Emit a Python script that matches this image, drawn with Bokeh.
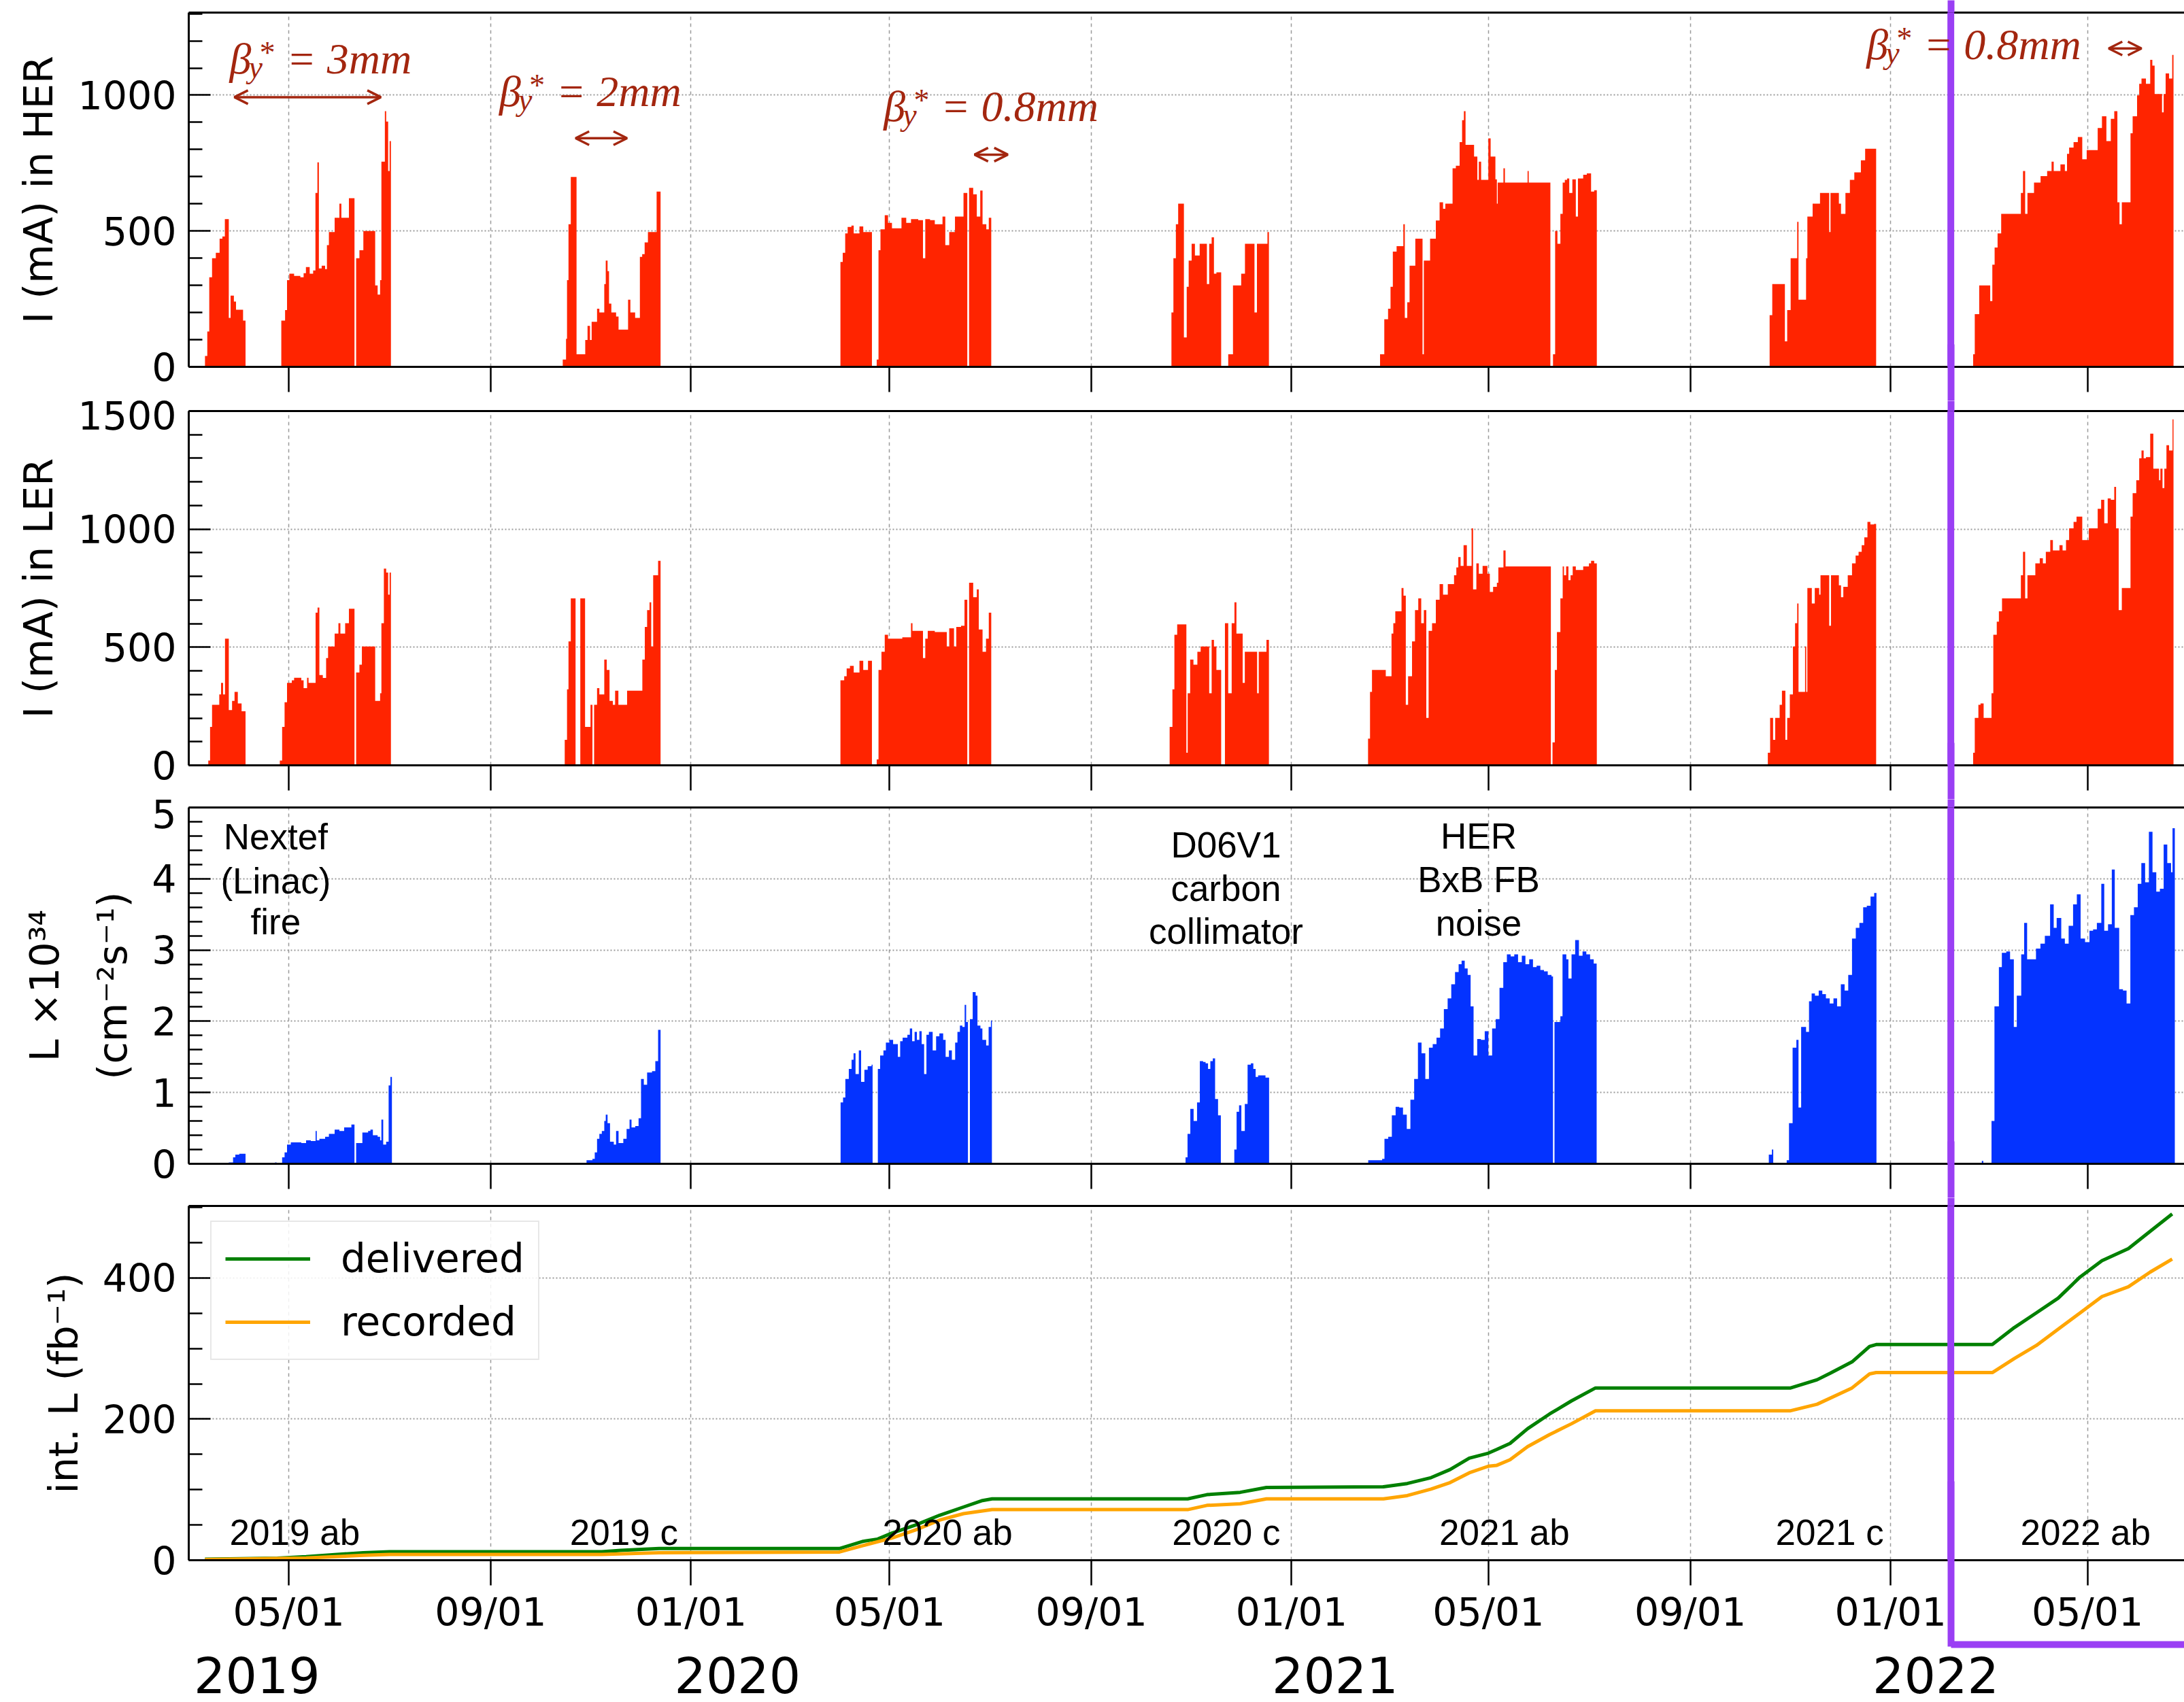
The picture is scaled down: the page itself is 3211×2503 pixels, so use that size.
import pandas as pd
from bokeh.plotting import figure
from bokeh.layouts import column
from bokeh.models import (Range1d, FixedTicker, DatetimeTickFormatter, LinearAxis, Label,
                          BoxAnnotation, Arrow, OpenHead, Legend, LegendItem, CustomJSTickFormatter)
from bokeh.embed import file_html
from bokeh.resources import INLINE

# ---------------- data (day offsets from DAY0, value) ----------------
DAY0 = "2019-03-01"
X_START, X_END = "2019-03-01", "2022-06-29"
XTICK_DATES = ["2019-05-01", "2019-09-01", "2020-01-01", "2020-05-01", "2020-09-01",
               "2021-01-01", "2021-05-01", "2021-09-01", "2022-01-01", "2022-05-01"]

# HER beam current (mA), step values holding until next day offset
HER = [(9.9, 40), (11.3, 130), (12.5, 330), (14.2, 400), (16.5, 420), (18.8, 472), (20.5, 480),
       (22.0, 544), (24.4, 180), (25.5, 262), (27.5, 240), (28.8, 210), (33.1, 170), (34.6, 0),
       (56.4, 170), (58.7, 209), (59.9, 319), (61.3, 343), (64.2, 335), (68.0, 330), (70.0, 345),
       (71.4, 367), (73.7, 343), (75.8, 355), (77.2, 640), (78.4, 753), (79.3, 362), (81.0, 372),
       (83.1, 360), (84.2, 448), (85.4, 496), (88.9, 549), (91.8, 601), (93.0, 549), (97.6, 621),
       (101.0, 0), (102.0, 400), (104.0, 429), (106.4, 500), (112.2, 500), (113.6, 300), (115.1, 266),
       (116.6, 319), (117.4, 755), (119.5, 941), (120.3, 903), (121.5, 721), (122.4, 831), (123.2, 0),
       (227.9, 27), (229.9, 103), (230.5, 319), (231.4, 525), (232.8, 699), (236.3, 46), (241.6, 99),
       (243.0, 151), (244.5, 99), (245.5, 166), (248.8, 214), (250.2, 200), (253.2, 305), (254.1, 391),
       (255.2, 352), (256.1, 233), (257.5, 200), (260.4, 185), (261.9, 137), (267.7, 247), (269.1, 200),
       (272.0, 180), (274.9, 405), (276.3, 415), (277.8, 458), (279.8, 496), (285.1, 645), (287.5, 0),
       (397.1, 386), (398.5, 420), (400.0, 491), (401.5, 515), (403.8, 520), (405.2, 491), (408.7, 517),
       (411.0, 496), (416.3, 0), (419.2, 27), (420.3, 429), (421.5, 506), (424.1, 558), (426.1, 530),
       (428.5, 510), (434.3, 549), (437.2, 530), (440.1, 544), (444.5, 540), (447.4, 400), (448.8, 544),
       (451.7, 540), (454.6, 525), (459.3, 553), (461.0, 448), (463.4, 496), (466.9, 553), (472.1, 640),
       (474.4, 0), (475.5, 659), (478.0, 635), (480.2, 553), (482.3, 649), (483.7, 525), (486.0, 506),
       (487.5, 549), (489.0, 0),
       (598.8, 200), (600.0, 400), (601.5, 525), (602.9, 601), (606.4, 108), (608.1, 295), (609.3, 391),
       (611.1, 453), (613.1, 410), (616.0, 453), (620.4, 305), (621.8, 453), (623.3, 477), (624.7, 343),
       (626.2, 348), (629.1, 0), (633.4, 46), (636.3, 300), (641.3, 343), (643.6, 453), (649.4, 200),
       (650.9, 453), (657.3, 496), (658.2, 0),
       (725.9, 46), (728.5, 175), (730.8, 214), (732.3, 295), (733.7, 424), (736.0, 444), (740.1, 525),
       (741.0, 180), (742.5, 238), (743.9, 372), (747.4, 472), (751.8, 46), (752.6, 391), (756.4, 472),
       (759.9, 539), (762.2, 606), (764.3, 582), (765.7, 601), (770.1, 731), (772.1, 740), (774.4, 827),
       (775.9, 908), (777.0, 941), (778.0, 817), (783.2, 774), (785.2, 688), (786.1, 755), (787.5, 688),
       (791.9, 841), (793.3, 774), (796.2, 690), (797.1, 601), (797.6, 678), (801.1, 731), (802.0, 678),
       (815.8, 721), (816.5, 678), (829.7, 0), (831.3, 46), (832.6, 500), (834.0, 453), (835.8, 563),
       (837.2, 678), (838.5, 688), (839.9, 693), (841.2, 640), (843.1, 690), (845.2, 553), (846.5, 693),
       (849.7, 707), (851.9, 712), (854.5, 645), (856.4, 650), (858.0, 0),
       (963.3, 190), (964.9, 305), (972.6, 94), (974.0, 209), (976.1, 400), (980.1, 534), (980.9, 247),
       (985.5, 400), (986.3, 553), (989.5, 601), (994.0, 640), (999.6, 496), (1000.4, 640), (1005.5, 601),
       (1006.8, 563), (1009.5, 640), (1012.2, 688), (1014.9, 716), (1018.9, 760), (1021.5, 803), (1028.2, 0),
       (1087.3, 46), (1088.3, 194), (1091.0, 300), (1097.7, 242), (1099.0, 376), (1100.4, 439), (1102.2, 491),
       (1104.4, 563), (1116.4, 640), (1117.7, 721), (1119.0, 563), (1120.4, 640), (1124.4, 678), (1128.4, 702),
       (1132.4, 721), (1135.1, 755), (1136.4, 721), (1140.5, 745), (1143.2, 721), (1144.5, 784), (1145.8, 807),
       (1148.5, 827), (1151.1, 846), (1153.8, 764), (1156.5, 798), (1163.2, 879), (1165.8, 922), (1168.5, 831),
       (1171.2, 913), (1173.3, 941), (1175.2, 606), (1176.5, 525), (1177.9, 606), (1183.2, 860), (1184.5, 922),
       (1187.2, 999), (1188.5, 1042), (1189.9, 1061), (1192.6, 1042), (1195.2, 1130), (1196.5, 1109),
       (1197.9, 1004), (1202.4, 937), (1203.4, 1004), (1204.6, 1080), (1206.7, 1061), (1208.6, 1148), (1209.4, 0)]

# LER beam current (mA)
LER = [(11.9, 20), (13.0, 163), (14.2, 256), (18.6, 300), (19.7, 349), (20.9, 300), (22.1, 536), (24.4, 234),
       (26.4, 273), (27.9, 311), (29.9, 262), (32.2, 229), (34.6, 0),
       (55.5, 20), (56.9, 163), (58.4, 267), (59.9, 349), (62.8, 360), (64.2, 371), (68.6, 360), (70.0, 327),
       (72.1, 371), (73.0, 349), (77.3, 646), (78.5, 668), (79.6, 382), (81.7, 370), (83.7, 454), (84.9, 503),
       (88.9, 558), (91.2, 602), (92.4, 558), (95.3, 602), (97.6, 663), (101.0, 0), (102.0, 393), (104.0, 426),
       (105.5, 503), (112.2, 503), (113.6, 273), (116.6, 305), (117.4, 602), (118.9, 833), (120.3, 816),
       (121.5, 723), (122.4, 816), (123.2, 0),
       (229.1, 108), (230.5, 322), (231.4, 525), (232.8, 707), (235.7, 0), (238.6, 707), (241.5, 163),
       (244.8, 256), (246.0, 0), (247.0, 256), (248.8, 327), (250.2, 300), (253.2, 448), (254.7, 404),
       (256.4, 273), (258.4, 256), (259.8, 316), (261.8, 256), (267.1, 316), (276.4, 448), (277.9, 586),
       (279.3, 657), (280.8, 690), (281.8, 503), (283.0, 805), (286.0, 866), (287.5, 0),
       (397.1, 360), (399.4, 377), (400.9, 410), (402.9, 421), (405.2, 393), (408.7, 443), (411.0, 404),
       (413.9, 443), (416.3, 0), (419.2, 25), (420.3, 404), (422.1, 481), (424.1, 553), (426.1, 536),
       (434.8, 542), (440.1, 602), (441.0, 569), (447.4, 454), (448.8, 536), (450.3, 569), (454.6, 564),
       (461.9, 503), (463.4, 580), (466.3, 503), (467.7, 586), (470.6, 591), (472.7, 701), (474.4, 0),
       (475.5, 773), (478.0, 712), (480.2, 745), (481.4, 575), (483.7, 481), (485.8, 536), (487.5, 646),
       (489.0, 0),
       (597.7, 163), (599.4, 322), (600.6, 553), (602.3, 597), (607.9, 53), (608.7, 305), (610.2, 448),
       (612.2, 426), (614.6, 481), (616.6, 503), (621.8, 305), (623.3, 531), (624.7, 503), (626.2, 404),
       (629.1, 0), (631.4, 602), (633.4, 305), (635.5, 602), (637.2, 690), (638.4, 558), (642.2, 349),
       (643.5, 481), (651.0, 305), (652.0, 481), (656.7, 531), (658.2, 0),
       (718.6, 113), (719.8, 311), (721.0, 404), (729.4, 377), (732.9, 558), (734.0, 602), (735.2, 652),
       (739.0, 751), (740.2, 718), (741.6, 256), (743.0, 377), (745.4, 525), (747.2, 657), (749.2, 707),
       (751.0, 602), (752.6, 657), (754.1, 201), (755.5, 569), (757.6, 602), (759.9, 701), (762.2, 767),
       (764.3, 723), (767.2, 767), (771.0, 805), (772.4, 838), (773.6, 882), (775.0, 844), (776.8, 932),
       (778.8, 844), (781.7, 1003), (782.6, 745), (784.6, 855), (786.1, 811), (788.4, 844), (791.3, 811),
       (792.8, 734), (794.8, 756), (797.1, 773), (798.0, 838), (801.1, 910), (802.4, 842), (829.2, 842),
       (830.0, 0), (831.0, 97), (832.4, 404), (833.7, 564), (835.8, 707), (837.2, 842), (838.0, 805),
       (839.3, 842), (840.7, 784), (842.0, 805), (843.3, 842), (845.2, 827), (849.7, 842), (853.2, 855),
       (854.5, 866), (856.4, 855), (858.0, 0),
       (962.2, 53), (963.6, 201), (965.4, 108), (966.7, 201), (969.4, 256), (970.8, 316), (972.9, 108),
       (974.0, 201), (975.6, 300), (977.5, 503), (978.8, 602), (980.1, 685), (980.9, 311), (984.9, 503),
       (985.6, 311), (986.3, 751), (989.0, 685), (990.8, 751), (993.5, 723), (994.3, 805), (999.6, 591),
       (1000.7, 805), (1005.5, 762), (1006.8, 712), (1008.2, 756), (1010.9, 805), (1013.5, 855),
       (1015.7, 888), (1017.5, 904), (1019.4, 932), (1021.0, 965), (1022.9, 1031), (1024.7, 1020),
       (1026.9, 1022), (1028.2, 0),
       (1087.3, 53), (1088.3, 201), (1090.5, 256), (1091.8, 262), (1093.7, 201), (1098.5, 305),
       (1099.6, 553), (1101.7, 608), (1103.0, 652), (1104.9, 707), (1116.4, 805), (1117.7, 904),
       (1119.0, 707), (1120.4, 805), (1125.2, 855), (1127.9, 877), (1129.8, 855), (1131.6, 904),
       (1134.3, 954), (1135.9, 910), (1139.9, 932), (1141.8, 910), (1143.9, 954), (1145.8, 1003),
       (1148.5, 1031), (1150.3, 1053), (1153.8, 954), (1157.8, 1003), (1163.2, 1086), (1165.3, 1124),
       (1167.2, 1025), (1169.3, 1130), (1171.2, 1124), (1173.3, 1179), (1174.4, 1003), (1176.0, 657),
       (1177.9, 751), (1183.2, 1053), (1184.5, 1152), (1186.7, 1207), (1188.5, 1300), (1189.9, 1333),
       (1191.2, 1300), (1192.6, 1305), (1195.2, 1404), (1197.1, 1256), (1200.6, 1207), (1201.4, 1256),
       (1202.7, 1174), (1203.8, 1256), (1205.1, 1355), (1206.7, 1333), (1208.8, 1465), (1209.4, 0)]

# Peak luminosity (x 1e34 cm^-2 s^-1)
LUMI = [(22.0, 0.01), (24.4, 0.02), (27.0, 0.09), (28.4, 0.13), (30.8, 0.14), (34.6, 0),
        (52.6, 0.02), (53.5, 0), (56.9, 0.09), (58.4, 0.16), (59.9, 0.27), (62.2, 0.30), (68.6, 0.29),
        (71.5, 0.33), (74.4, 0.32), (77.3, 0.46), (78.0, 0.33), (79.6, 0.35), (83.1, 0.38), (85.4, 0.42),
        (88.9, 0.48), (91.8, 0.46), (94.7, 0.51), (99.1, 0.55), (101.0, 0), (102.0, 0.29), (105.8, 0.44),
        (109.3, 0.46), (110.7, 0.48), (112.2, 0.40), (115.1, 0.38), (116.6, 0.33), (117.4, 0.62),
        (118.5, 0.27), (120.3, 0.31), (121.8, 1.10), (122.9, 1.22), (123.8, 0),
        (242.4, 0.05), (246.0, 0.07), (247.4, 0.16), (248.8, 0.35), (250.2, 0.42), (251.7, 0.46),
        (253.2, 0.60), (254.1, 0.69), (255.2, 0.57), (256.7, 0.31), (259.0, 0.27), (260.4, 0.46),
        (261.9, 0.29), (264.8, 0.35), (266.8, 0.49), (268.6, 0.62), (269.8, 0.51), (272.1, 0.53),
        (274.1, 0.64), (275.6, 1.19), (277.3, 1.11), (279.3, 1.28), (282.3, 1.30), (284.3, 1.44),
        (286.0, 1.88), (287.5, 0),
        (397.2, 0.86), (398.7, 0.93), (400.1, 1.19), (402.2, 1.33), (403.9, 1.46), (405.1, 1.55),
        (406.3, 1.26), (408.3, 1.59), (409.7, 1.15), (411.7, 1.32), (413.7, 1.37), (416.1, 1.39),
        (416.7, 0), (419.9, 1.33), (421.3, 1.52), (423.3, 1.59), (424.8, 1.70), (426.9, 1.74),
        (429.2, 1.68), (432.1, 1.50), (433.5, 1.72), (435.0, 1.77), (437.9, 1.81), (439.4, 1.90),
        (440.8, 1.72), (442.3, 1.85), (443.7, 1.74), (445.2, 1.86), (446.6, 1.68), (448.1, 1.26),
        (449.5, 1.81), (451.0, 1.85), (453.3, 1.59), (455.4, 1.79), (457.4, 1.83), (459.7, 1.74),
        (461.2, 1.50), (463.2, 1.59), (465.0, 1.46), (467.0, 1.70), (468.4, 1.85), (469.9, 1.94),
        (471.4, 1.92), (472.8, 2.23), (473.7, 1.99), (474.8, 0), (476.0, 2.03), (477.7, 2.41),
        (479.5, 2.36), (480.6, 1.94), (482.4, 1.90), (483.6, 1.74), (485.9, 1.66), (487.4, 1.92),
        (488.8, 2.01), (489.4, 0),
        (607.4, 0.09), (608.6, 0.42), (610.3, 0.77), (612.3, 0.60), (614.4, 0.86), (616.1, 1.44),
        (618.1, 1.43), (619.6, 1.41), (621.1, 1.33), (622.5, 1.44), (624.0, 1.48), (625.4, 0.91),
        (627.2, 0.68), (628.9, 0), (637.1, 0.20), (638.5, 0.73), (640.0, 0.82), (641.4, 0.46),
        (643.5, 0.84), (645.2, 1.39), (647.2, 1.41), (648.7, 1.33), (650.1, 1.22), (651.6, 1.24),
        (656.1, 1.21), (658.3, 0),
        (718.7, 0.05), (727.2, 0.07), (728.6, 0.35), (730.9, 0.38), (733.1, 0.68), (735.4, 0.80),
        (737.6, 0.79), (739.9, 0.69), (742.2, 0.49), (744.4, 0.90), (746.7, 1.19), (749.0, 1.70),
        (751.2, 1.55), (753.5, 1.19), (755.7, 1.63), (758.0, 1.68), (760.3, 1.77), (762.5, 1.90),
        (764.8, 2.17), (767.1, 2.32), (769.3, 2.52), (771.6, 2.69), (773.8, 2.80), (775.6, 2.85),
        (777.5, 2.74), (779.3, 2.65), (781.1, 2.21), (782.9, 1.52), (785.1, 1.75), (787.4, 1.74),
        (789.7, 1.86), (791.9, 1.52), (794.2, 1.90), (796.4, 2.03), (798.7, 2.47), (801.0, 2.83),
        (803.2, 2.94), (805.5, 2.91), (807.7, 2.94), (810.0, 2.83), (812.3, 2.92), (814.5, 2.80),
        (816.8, 2.87), (819.1, 2.76), (821.3, 2.78), (823.6, 2.72), (825.8, 2.70), (828.1, 2.65),
        (830.4, 2.63), (831.3, 0), (832.2, 1.99), (835.8, 2.07), (837.1, 2.94), (839.4, 2.87),
        (840.7, 2.60), (842.6, 2.94), (844.8, 3.14), (847.1, 2.92), (849.3, 2.98), (851.6, 2.94),
        (853.9, 2.87), (856.1, 2.81), (857.9, 0),
        (962.8, 0.13), (964.7, 0.20), (965.5, 0), (973.7, 0.05), (975.1, 0.57), (977.3, 1.63),
        (979.6, 1.74), (980.9, 0.79), (982.5, 1.92), (985.5, 1.85), (987.3, 2.28), (988.9, 2.39),
        (990.9, 2.36), (993.2, 2.43), (995.4, 2.38), (997.6, 2.32), (999.9, 2.25), (1002.2, 2.32),
        (1004.4, 2.21), (1006.7, 2.52), (1009.0, 2.43), (1011.2, 2.65), (1013.5, 3.16), (1015.8, 3.31),
        (1018.0, 3.38), (1020.3, 3.60), (1022.5, 3.62), (1024.8, 3.75), (1027.0, 3.80), (1028.4, 0),
        (1092.6, 0.04), (1093.5, 0), (1098.5, 0.60), (1100.3, 2.21), (1103.0, 2.76), (1104.8, 2.96),
        (1107.5, 2.98), (1109.8, 2.87), (1112.1, 1.92), (1113.9, 2.36), (1116.6, 2.94), (1118.4, 3.38),
        (1120.2, 2.87), (1125.6, 3.02), (1128.3, 3.09), (1131.0, 3.20), (1134.2, 3.64), (1136.4, 3.31),
        (1138.2, 3.45), (1141.0, 3.16), (1143.2, 3.09), (1145.5, 3.34), (1148.2, 3.64), (1150.5, 3.78),
        (1152.8, 3.16), (1155.5, 3.11), (1158.2, 3.27), (1160.4, 3.29), (1162.7, 3.38), (1165.4, 3.93),
        (1167.2, 3.27), (1169.5, 3.36), (1171.8, 4.13), (1173.6, 3.31), (1176.3, 2.45), (1178.6, 2.43),
        (1180.8, 2.25), (1183.1, 3.49), (1185.3, 3.60), (1187.6, 3.93), (1189.8, 4.22), (1192.1, 3.95),
        (1194.4, 4.66), (1196.6, 4.09), (1198.9, 3.82), (1201.1, 3.86), (1203.4, 4.48), (1205.6, 4.22),
        (1207.9, 4.09), (1208.8, 4.71), (1210.2, 0)]

# Integrated luminosity (fb^-1)
DEL_DAY = [9.9, 54.0, 71.5, 88.9, 106.4, 122.4, 251.7, 263.3, 286.6, 396.5, 411.0, 419.8, 428.5, 443.0,
           457.6, 472.1, 483.7, 489.5, 608.7, 620.4, 640.7, 656.7, 728.0, 742.5, 757.0, 768.6, 780.3,
           791.9, 797.1, 805.1, 815.8, 829.2, 842.5, 857.2, 976.1, 992.2, 1000.2, 1013.5, 1024.2, 1028.2,
           1099.0, 1112.4, 1125.8, 1139.1, 1152.5, 1165.8, 1181.9, 1195.2, 1208.6]
DEL_FB = [1.4, 2.8, 5, 8, 10.6, 12, 12, 13.9, 16.6, 16.6, 26.8, 30, 38.4, 50, 63.8, 75.4, 84.6, 86.9,
          86.9, 92.9, 96.2, 103.1, 104, 108.7, 117, 128.5, 144.7, 151.7, 157, 165.5, 186.3, 207.2, 225.7,
          244.1, 244.1, 255.7, 265, 281.1, 302.9, 305.6, 305.6, 329.7, 350.5, 371.3, 401.4, 424.5, 441.6,
          466.1, 490.6]
REC_DAY = [9.9, 71.5, 106.4, 122.4, 251.7, 286.6, 396.5, 411.0, 428.5, 443.0, 457.6, 472.1, 489.5,
           608.7, 620.4, 640.7, 656.7, 728.0, 742.5, 757.0, 768.6, 780.3, 791.9, 797.1, 805.1, 815.8,
           829.2, 842.5, 857.2, 976.1, 992.2, 1013.5, 1024.2, 1028.2, 1099.0, 1112.4, 1125.8, 1139.1,
           1152.5, 1165.8, 1181.9, 1195.2, 1208.6]
REC_FB = [0.9, 3.2, 6.9, 8.3, 8.3, 10.6, 11.6, 20.8, 31.4, 43, 56.9, 66, 71.7, 71.7, 77.7, 80, 86.9,
          86.9, 91.6, 100.8, 110, 123.9, 133.2, 134.5, 142.4, 160.9, 178, 193.3, 211.8, 211.8, 221,
          244.1, 264, 265.9, 265.9, 285.8, 304.3, 327.4, 350.5, 373.6, 387.5, 408.3, 426.8]

# annotations
BETA_TEXT = ["= 3mm", "= 2mm", "= 0.8mm", "= 0.8mm"]
BETA_DAY = [24.9, 189.2, 423.5, 1022.3]
BETA_Y = [1090.6, 970.7, 916.1, 1145.0]
ARROW_START = [27.8, 235.7, 478.8, 1169.9]
ARROW_END = [117.1, 267.1, 499.1, 1189.9]
ARROW_Y = [992.7, 841.5, 781.2, 1172.0]

NOTE_LINES = [["Nextef", "(Linac)", "fire"], ["D06V1", "carbon", "collimator"], ["HER", "BxB FB", "noise"]]
NOTE_DAY = [53.0, 632.0, 786.0]
NOTE_Y = [[4.43, 3.81, 3.23], [4.31, 3.70, 3.10], [4.44, 3.83, 3.22]]

RUN_LABELS = ["2019 ab", "2019 c", "2020 ab", "2020 c", "2021 ab", "2021 c", "2022 ab"]
RUN_DAY = [64.6, 265.2, 462.3, 632.2, 801.7, 999.9, 1155.8]
RUN_Y = 23.5

YEAR_DAY = [41.6, 334.4, 698.5, 1064.5]   # positions of the year captions (2019 ... 2022)

PURPLE_DAY = 1073.7

# ---------------- style ----------------
RED = "#ff2400"
BLUE = "#0433ff"
DARK_RED = "#a3260f"
PURPLE = "#9a3ff4"
GRID = "#9a9a9a"
AX_FONT = "DejaVu Sans"
NOTE_FONT = "Liberation Sans"
FRAME_W = 2934
LEFT_B = 277
BASE_FIX = 17  # screen-px lift so the label baseline sits where the reference text sits


def ms(day):
    return (pd.Timestamp(DAY0) + pd.Timedelta(days=float(day))).value / 1e6


def dms(s):
    return pd.Timestamp(s).value / 1e6


XR = Range1d(start=dms(X_START), end=dms(X_END))
XTICKS = [dms(s) for s in XTICK_DATES]
PURPLE_X = ms(PURPLE_DAY)


def purple_axis(tick_in, tick_out, line_color=None, bounds="auto", line_width=3, tick_color=PURPLE):
    """axis carrying a single purple tick at the marker date (continues the purple frame outside the plot area)"""
    return LinearAxis(ticker=FixedTicker(ticks=[PURPLE_X]), axis_line_color=line_color,
                      axis_line_width=line_width, bounds=bounds,
                      major_tick_line_color=tick_color, major_tick_line_width=10,
                      major_tick_in=tick_in, major_tick_out=tick_out,
                      minor_tick_line_color=None, minor_tick_in=0, minor_tick_out=0,
                      major_label_text_font_size="0px", major_label_text_color=None,
                      major_label_standoff=0)


def panel(y_end, frame_h, top_b, bottom_b, ylabel, yticks, yminor, show_x=False):
    p = figure(x_axis_type="datetime", x_range=XR, y_range=Range1d(0, y_end),
               frame_width=FRAME_W, frame_height=frame_h,
               min_border_left=LEFT_B, min_border_right=0, min_border_top=top_b,
               min_border_bottom=bottom_b, output_backend="svg", toolbar_location=None)
    p.outline_line_color = None
    p.background_fill_color = "white"
    p.border_fill_color = "white"

    xt = FixedTicker(ticks=XTICKS)
    xa = p.xaxis[0]
    xa.ticker = xt
    xa.formatter = DatetimeTickFormatter(days="%m/%d", months="%m/%d", years="%m/%d")
    xa.major_tick_in = 0
    xa.major_tick_out = 37
    xa.major_tick_line_width = 2.5
    xa.minor_tick_line_color = None
    xa.minor_tick_out = 0
    xa.axis_line_width = 3
    xa.major_label_text_font = AX_FONT
    if show_x:
        xa.major_label_text_font_size = "57px"
        xa.major_label_text_color = "black"
        xa.major_label_standoff = 6
    else:
        xa.major_label_text_font_size = "0px"
        xa.major_label_text_color = None
        xa.major_label_standoff = 0
    p.xgrid.ticker = xt
    p.xgrid.grid_line_color = GRID
    p.xgrid.grid_line_dash = "5 5"
    p.xgrid.grid_line_width = 1.5

    yt = FixedTicker(ticks=yticks, minor_ticks=yminor)
    ya = p.yaxis[0]
    ya.ticker = yt
    ya.major_tick_in = 32
    ya.major_tick_out = 0
    ya.minor_tick_in = 20
    ya.minor_tick_out = 0
    ya.major_tick_line_width = 2.5
    ya.minor_tick_line_width = 2.5
    ya.axis_line_width = 3
    ya.major_label_text_font = AX_FONT
    ya.major_label_text_font_size = "57px"
    ya.major_label_text_color = "black"
    ya.major_label_standoff = 18
    ya.axis_label = ylabel
    ya.axis_label_text_font = AX_FONT
    ya.axis_label_text_font_size = "59px"
    ya.axis_label_text_font_style = "normal"
    ya.axis_label_text_color = "black"
    ya.axis_label_standoff = 20
    p.ygrid.ticker = yt
    p.ygrid.grid_line_color = GRID
    p.ygrid.grid_line_dash = "2 3"
    p.ygrid.grid_line_width = 2

    # top spine (with the purple marker continuing upward)
    p.add_layout(purple_axis(0, top_b, line_color="black"), "above")
    if show_x:
        # spacer between the month labels and the bottom edge of the purple frame
        # (its white tick sits under the purple marker drawn next)
        p.add_layout(purple_axis(0, 12, tick_color="white"), "below")
        # purple marker down through the tick labels, then the bottom edge of the purple frame
        p.add_layout(purple_axis(240, 3, line_color=PURPLE, bounds=(PURPLE_X, dms(X_END)),
                                 line_width=10), "below")
    else:
        # purple marker continuing downward through the tick area
        p.add_layout(purple_axis(bottom_b + 20, 13), "below")

    p.add_layout(BoxAnnotation(left=PURPLE_X, right=ms(PURPLE_DAY + 400), bottom=-50 * y_end,
                               top=50 * y_end, fill_color=None, fill_alpha=0, line_color=PURPLE,
                               line_alpha=1.0, line_width=10))
    return p


def step_area(p, pairs, color):
    xs = [ms(d) for d, _ in pairs]
    ys = [v for _, v in pairs]
    p.varea_step(x=xs, y1=0, y2=ys, step_mode="after", fill_color=color)


# Panel 1: HER
p1 = panel(1304, 521, 18, 50, "I (mA) in HER", [0, 500, 1000],
           [v for v in range(100, 1301, 100) if v % 500])
step_area(p1, HER, RED)
for txt, d, y in zip(BETA_TEXT, BETA_DAY, BETA_Y):
    common = dict(x=ms(d), y=y, text_color=DARK_RED, text_font="Liberation Serif",
                  text_font_style="italic", text_baseline="alphabetic", text_align="left")
    p1.add_layout(Label(text="β", text_font_size="64px", y_offset=BASE_FIX, **common))
    p1.add_layout(Label(text="y", text_font_size="46px", x_offset=28, y_offset=BASE_FIX - 12, **common))
    p1.add_layout(Label(text="*", text_font_size="46px", x_offset=42, y_offset=BASE_FIX + 9, **common))
    p1.add_layout(Label(text=txt, text_font_size="64px", x_offset=84, y_offset=BASE_FIX, **common))
for a, b, y in zip(ARROW_START, ARROW_END, ARROW_Y):
    p1.add_layout(Arrow(start=OpenHead(size=20, line_color=DARK_RED, line_width=3.5),
                        end=OpenHead(size=20, line_color=DARK_RED, line_width=3.5),
                        x_start=ms(a), y_start=y, x_end=ms(b), y_end=y,
                        line_color=DARK_RED, line_width=3.5))

# Panel 2: LER
p2 = panel(1500, 521, 15, 50, "I (mA) in LER", [0, 500, 1000, 1500],
           [v for v in range(100, 1500, 100) if v % 500])
step_area(p2, LER, RED)

# Panel 3: luminosity
p3 = panel(5, 524, 12, 50, "L ×10³⁴\n(cm⁻²s⁻¹)", [0, 1, 2, 3, 4, 5],
           [i / 5 for i in range(1, 25) if i % 5])
p3.yaxis[0].axis_label_text_line_height = 1.45
step_area(p3, LUMI, BLUE)
for lines, d, ys in zip(NOTE_LINES, NOTE_DAY, NOTE_Y):
    for t, y in zip(lines, ys):
        p3.add_layout(Label(x=ms(d), y=y, y_offset=BASE_FIX, text=t, text_font=NOTE_FONT,
                            text_font_size="53px", text_align="center", text_baseline="alphabetic",
                            text_color="black"))

# Panel 4: integrated luminosity
p4 = panel(502, 521, 12, 0, "int. L (fb⁻¹)", [0, 200, 400],
           [v for v in range(50, 501, 50) if v % 200], show_x=True)
r_del = p4.line([ms(d) for d in DEL_DAY], DEL_FB, line_color="green", line_width=5)
r_rec = p4.line([ms(d) for d in REC_DAY], REC_FB, line_color="orange", line_width=5)
legend = Legend(items=[LegendItem(label="delivered", renderers=[r_del]),
                       LegendItem(label="recorded", renderers=[r_rec])],
                location=(32, 294), label_text_font=AX_FONT, label_text_font_size="58px",
                label_text_color="black",
                glyph_width=125, glyph_height=60, label_height=60, label_standoff=45,
                spacing=25, padding=20, margin=0, border_line_color="#d0d0d0",
                border_line_width=2, background_fill_alpha=0.85)
p4.add_layout(legend)
for t, d in zip(RUN_LABELS, RUN_DAY):
    p4.add_layout(Label(x=ms(d), y=RUN_Y, y_offset=BASE_FIX, text=t, text_font=NOTE_FONT,
                        text_font_size="53px", text_align="center", text_baseline="alphabetic",
                        text_color="black"))

# year captions below the month labels
year_axis = LinearAxis(ticker=FixedTicker(ticks=[ms(d) for d in YEAR_DAY]),
                       formatter=CustomJSTickFormatter(code="return String(new Date(tick).getUTCFullYear());"),
                       axis_line_color=None, major_tick_line_color=None, minor_tick_line_color=None,
                       major_tick_in=0, major_tick_out=0, minor_tick_in=0, minor_tick_out=0,
                       major_label_text_font=AX_FONT, major_label_text_font_size="73px",
                       major_label_text_color="black", major_label_standoff=14)
p4.add_layout(year_axis, "below")

layout = column(p1, p2, p3, p4, spacing=0)
open("out.html", "w").write(file_html(layout, INLINE))
